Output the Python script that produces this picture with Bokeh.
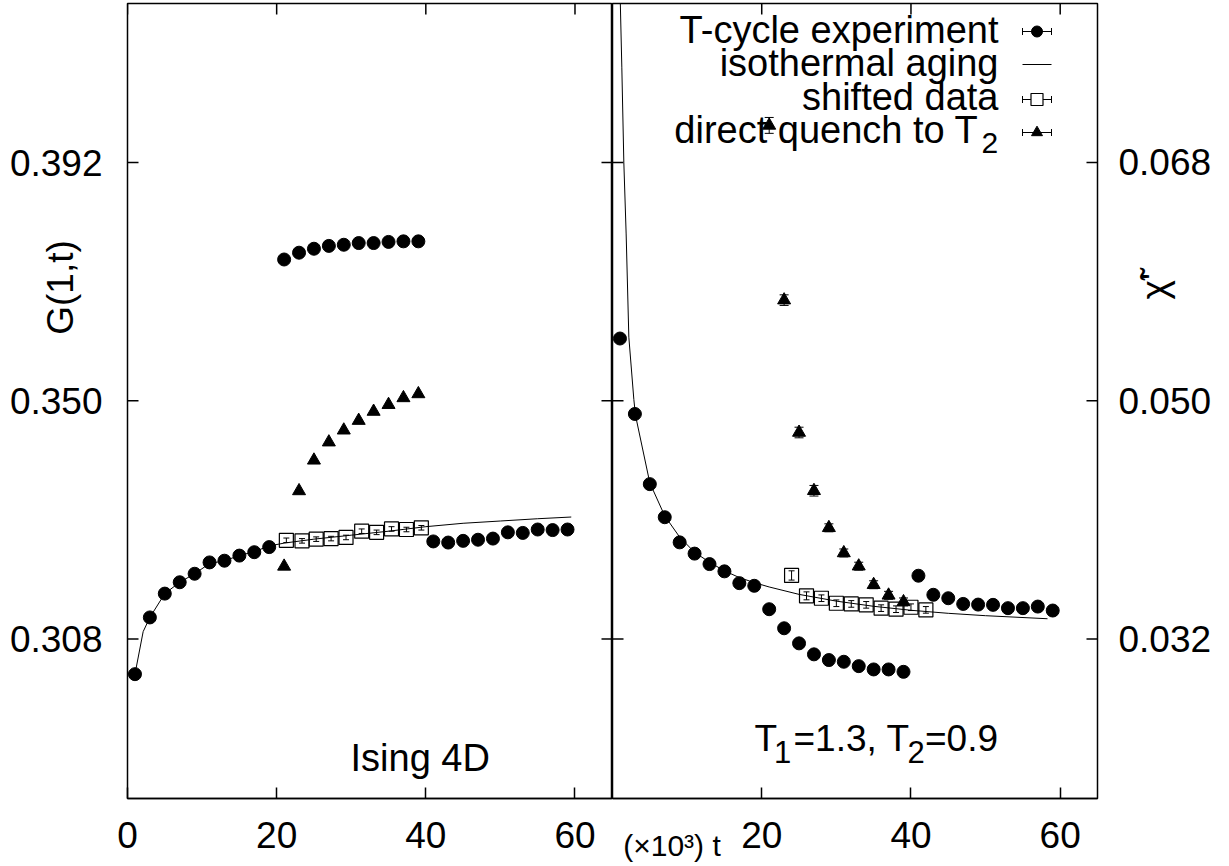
import math
from bokeh.plotting import figure
from bokeh.layouts import row
from bokeh.models import (Range1d, LinearAxis, FixedTicker, PrintfTickFormatter,
                          Label, Whisker, ColumnDataSource, TeeHead)
from bokeh.embed import file_html
from bokeh.resources import INLINE

# ---------------- data ----------------
# time axis, units of 10^3 sweeps
tcycle_t = [1, 3, 5, 7, 9, 11, 13, 15, 17, 19, 21, 23, 25, 27, 29,
            31, 33, 35, 37, 39, 41, 43, 45, 47, 49, 51, 53, 55, 57, 59]

# left panel: G(1,t)
left_tcycle = [0.3018, 0.3118, 0.3160, 0.3180, 0.3195, 0.3215, 0.3218, 0.3227, 0.3233, 0.3242,
               0.3749, 0.3761, 0.3768, 0.3773, 0.3775, 0.3778, 0.3778, 0.3780, 0.3781, 0.3781,
               0.3252, 0.3250, 0.3253, 0.3255, 0.3257, 0.3268, 0.3267, 0.3273, 0.3272, 0.3273]
left_quench_t = [21, 23, 25, 27, 29, 31, 33, 35, 37, 39]
left_quench = [0.3208, 0.3341, 0.3395, 0.3427, 0.3448, 0.3465, 0.3481, 0.3493, 0.3505, 0.3512]
left_shift_t = [21.3, 23.4, 25.3, 27.3, 29.3, 31.4, 33.4, 35.4, 37.4, 39.4]
left_shift = [0.3254, 0.3253, 0.3256, 0.3257, 0.3259, 0.3270, 0.3268, 0.3274, 0.3273, 0.3276]
left_shift_err = [0.0004] * 10
left_iso_t = [1, 2.1, 3, 5, 7, 9, 11, 13, 15, 17, 19, 21, 25, 30, 35, 40, 45, 50, 55, 59.5]
left_iso = [0.3018, 0.3093, 0.3118, 0.3160, 0.3180, 0.3195, 0.3213, 0.3218, 0.3227, 0.3234,
            0.3244, 0.3249, 0.3256, 0.3263, 0.3270, 0.3278, 0.3284, 0.3288, 0.3292, 0.3295]

# right panel: chi'
right_tcycle = [0.0547, 0.0490, 0.0437, 0.0412, 0.0393, 0.03845, 0.03766, 0.03711, 0.03622, 0.03602,
                0.03425, 0.03281, 0.03167, 0.03084, 0.03041, 0.03028, 0.02995, 0.02970, 0.02970, 0.02952,
                0.03678, 0.03534, 0.03508, 0.03465, 0.03460, 0.03458, 0.03433, 0.03433, 0.03445, 0.03415]
right_quench_t = [21, 23, 25, 27, 29, 31, 33, 35, 37, 39]
right_quench = [0.0708, 0.0576, 0.0476, 0.0432, 0.0404, 0.0385, 0.0375, 0.0361, 0.0353, 0.0348]
right_quench_err = [0.0006, 0.0004, 0.0004, 0.0004, 0.0003, 0.0003, 0.0003, 0.0003, 0.0003, 0.0003]
right_shift_t = [24, 26, 28, 30, 32, 34, 36, 38, 40, 42]
right_shift = [0.0368, 0.03526, 0.03508, 0.0347, 0.03465, 0.03458, 0.03433, 0.03425, 0.0344, 0.0342]
right_shift_err = [0.00035, 0.0003, 0.00025, 0.00025, 0.00025, 0.00025, 0.00025, 0.00025, 0.00025, 0.00025]
right_iso_t = [1.05, 1.25, 1.52, 1.83, 2.19, 2.86, 3.08, 5, 7, 9, 11, 13, 15, 17, 19, 21,
               25, 30, 35, 40, 45, 50, 58.3]
right_iso = [0.0800, 0.0752, 0.0680, 0.0626, 0.0548, 0.0501, 0.0489, 0.0438, 0.0413, 0.0397,
             0.03855, 0.0378, 0.03715, 0.03664, 0.03626, 0.03593, 0.03537, 0.03486, 0.03447,
             0.03417, 0.03394, 0.03376, 0.03353]

x_ticks_left = [0, 20, 40, 60]
x_ticks_right = [20, 40, 60]
y_ticks_left = [0.308, 0.350, 0.392]
y_ticks_right = [0.032, 0.050, 0.068]

legend_labels = ["T-cycle experiment", "isothermal aging", "shifted data", "direct quench to T"]
y_label_left = "G(1,t)"
y_label_right = "\u03c7\u0303'"
x_unit_label = "(\u00d710\u00b3) t"

# ---------------- layout / style ----------------
FONT = "Liberation Sans"
TICK_FS = "37px"
FS = "38px"
FRAME_TOP = 3
FRAME_H = 795
FRAME_W = 485
LEFT_BORDER = 127
RIGHT_BORDER = 125
BOTTOM_BORDER = 68
H = FRAME_TOP + FRAME_H + BOTTOM_BORDER
TICK_PX = 11

LX0, LX1 = 0, 65.03
LY0, LY1 = 0.27988, 0.42003
RX0, RX1 = 0, 65.0
RY0, RY1 = 0.01995, 0.08001
RX_PAGE = LEFT_BORDER + FRAME_W   # page x of right panel's left edge


# helpers converting page pixel positions (for annotations) into panel coordinates
def lx(px):
    return LX0 + (px - LEFT_BORDER) * (LX1 - LX0) / FRAME_W


def ly(py):
    return LY1 - (py - FRAME_TOP) * (LY1 - LY0) / FRAME_H


def rx(px):
    return RX0 + (px - RX_PAGE) * (RX1 - RX0) / FRAME_W


def ry(py):
    return RY1 - (py - FRAME_TOP) * (RY1 - RY0) / FRAME_H


def make_fig(width, xr, yr, bl, br):
    p = figure(width=width, height=H, x_range=Range1d(*xr), y_range=Range1d(*yr),
               output_backend="svg", toolbar_location=None, y_axis_location=None,
               min_border_left=bl, min_border_right=br, min_border_top=FRAME_TOP,
               min_border_bottom=BOTTOM_BORDER)
    p.grid.visible = False
    p.outline_line_color = "black"
    p.outline_line_width = 1.5
    p.background_fill_color = "white"
    p.border_fill_color = "white"
    return p


def style_axis(ax, ticks, fmt=None, standoff=0, tick_in=TICK_PX, line=True):
    ax.ticker = FixedTicker(ticks=ticks, minor_ticks=[])
    ax.major_tick_in = tick_in
    ax.major_tick_out = 0
    ax.minor_tick_in = 0
    ax.minor_tick_out = 0
    ax.major_tick_line_color = "black"
    ax.major_tick_line_width = 1.5
    ax.axis_line_color = "black" if line else None
    ax.axis_line_width = 1.5
    if fmt:
        ax.formatter = PrintfTickFormatter(format=fmt)
    ax.major_label_text_font = FONT
    ax.major_label_text_font_size = TICK_FS
    ax.major_label_text_color = "black"
    ax.major_label_standoff = standoff


def text_axis(pos, text, size, standoff, orientation):
    # an axis carrying only a title-like label at a chosen position
    ax = LinearAxis(ticker=FixedTicker(ticks=[pos], minor_ticks=[]),
                    major_label_overrides={pos: text})
    ax.major_tick_in = 0
    ax.major_tick_out = 0
    ax.minor_tick_in = 0
    ax.minor_tick_out = 0
    ax.axis_line_color = None
    ax.major_label_standoff = standoff
    ax.major_label_orientation = orientation
    ax.major_label_text_font = FONT
    ax.major_label_text_font_size = size
    ax.major_label_text_color = "black"
    return ax


def frame_ticks(p, xticks, yticks, xr, yr):
    # inward tick marks on the top edge and on both vertical edges
    dy = TICK_PX * (yr[1] - yr[0]) / FRAME_H
    dx = TICK_PX * (xr[1] - xr[0]) / FRAME_W
    n, m = len(xticks), len(yticks)
    p.segment(x0=xticks, y0=[yr[1]] * n, x1=xticks, y1=[yr[1] - dy] * n,
              line_color="black", line_width=1.5)
    p.segment(x0=[xr[0]] * m, y0=yticks, x1=[xr[0] + dx] * m, y1=yticks,
              line_color="black", line_width=1.5)
    p.segment(x0=[xr[1]] * m, y0=yticks, x1=[xr[1] - dx] * m, y1=yticks,
              line_color="black", line_width=1.5)


def label(p, x, y, text, size=FS, align="left"):
    p.add_layout(Label(x=x, y=y, text=text, text_font=FONT, text_font_size=size,
                       text_color="black", text_align=align, text_baseline="middle"))


def errbars(p, xs, ys, errs, head=7):
    src = ColumnDataSource(dict(x=xs, upper=[a + b for a, b in zip(ys, errs)],
                                lower=[a - b for a, b in zip(ys, errs)]))
    p.add_layout(Whisker(source=src, base="x", upper="upper", lower="lower",
                         dimension="height", line_color="black", line_width=1,
                         upper_head=TeeHead(size=head, line_color="black", line_width=1),
                         lower_head=TeeHead(size=head, line_color="black", line_width=1)))


# ---------------- left panel ----------------
left = make_fig(LEFT_BORDER + FRAME_W, (LX0, LX1), (LY0, LY1), LEFT_BORDER, 0)
style_axis(left.xaxis[0], x_ticks_left, None, 23)
left.add_layout(text_axis(ly(287), y_label_left, "37px", 47, "vertical"), "left")
ly_axis = LinearAxis()
style_axis(ly_axis, y_ticks_left, "%.3f", -66, tick_in=0, line=False)
left.add_layout(ly_axis, "left")
frame_ticks(left, x_ticks_left, y_ticks_left, (LX0, LX1), (LY0, LY1))

left.line(left_iso_t, left_iso, line_color="black", line_width=1)
left.scatter(tcycle_t, left_tcycle, marker="circle", size=13, color="black")
left.scatter(left_quench_t, left_quench, marker="triangle", size=13, color="black")
errbars(left, left_shift_t, left_shift, left_shift_err, 6)
left.scatter(left_shift_t, left_shift, marker="square", size=14, fill_color=None,
             line_color="black", line_width=1.2)

label(left, lx(350), ly(757), "Ising 4D")

# ---------------- right panel ----------------
right = make_fig(FRAME_W + RIGHT_BORDER, (RX0, RX1), (RY0, RY1), 0, RIGHT_BORDER)
style_axis(right.xaxis[0], x_ticks_right, None, 23)
right.add_layout(text_axis(rx(671.5), x_unit_label, "30px", -22, "horizontal"), "below")
right.add_layout(text_axis(ry(299), y_label_right, "37px", 57, math.pi / 2), "right")
ry_axis = LinearAxis()
style_axis(ry_axis, y_ticks_right, "%.3f", -80, tick_in=0, line=False)
right.add_layout(ry_axis, "right")
frame_ticks(right, x_ticks_right, y_ticks_right, (RX0, RX1), (RY0, RY1))

right.line(right_iso_t, right_iso, line_color="black", line_width=1)
right.scatter(tcycle_t, right_tcycle, marker="circle", size=13, color="black")
errbars(right, right_quench_t, right_quench, right_quench_err, 9)
right.scatter(right_quench_t, right_quench, marker="triangle", size=13, color="black")
errbars(right, right_shift_t, right_shift, right_shift_err, 6)
right.scatter(right_shift_t, right_shift, marker="square", size=14, fill_color=None,
              line_color="black", line_width=1.2)

# legend (samples on the right of right-aligned texts)
leg_mark_y = [ry(31), ry(64), ry(99), ry(132)]
leg_text_y = [ry(29), ry(62), ry(96), ry(129)]
lx0, lx1, lxc = rx(1022), rx(1051), rx(1036.5)
for i in (0, 2, 3):
    src = ColumnDataSource(dict(base=[leg_mark_y[i]], lower=[lx0], upper=[lx1]))
    right.add_layout(Whisker(source=src, base="base", lower="lower", upper="upper",
                             dimension="width", line_color="black", line_width=1,
                             upper_head=TeeHead(size=7, line_color="black", line_width=1),
                             lower_head=TeeHead(size=7, line_color="black", line_width=1)))
right.segment(x0=lx0, y0=leg_mark_y[1], x1=lx1, y1=leg_mark_y[1], line_color="black", line_width=1)
right.scatter(lxc, leg_mark_y[0], marker="circle", size=11, color="black")
right.scatter(lxc, leg_mark_y[2], marker="square", size=12, fill_color="white",
              line_color="black", line_width=1.2)
right.scatter(lxc, leg_mark_y[3], marker="triangle", size=11, color="black")
for i in range(3):
    label(right, rx(998), leg_text_y[i], legend_labels[i], align="right")
label(right, rx(978), leg_text_y[3], legend_labels[3], align="right")
label(right, rx(981), ry(142), "2", size="30px")

# annotation T1=1.3, T2=0.9
label(right, rx(754), ry(737.5), "T", size="37px")
label(right, rx(773.5), ry(751), "1", size="31px")
label(right, rx(793), ry(737.5), "=1.3, T", size="37px")
label(right, rx(907), ry(751), "2", size="31px")
label(right, rx(924.5), ry(737.5), "=0.9", size="37px")

layout = row(left, right)
open("out.html", "w").write(file_html(layout, INLINE))
